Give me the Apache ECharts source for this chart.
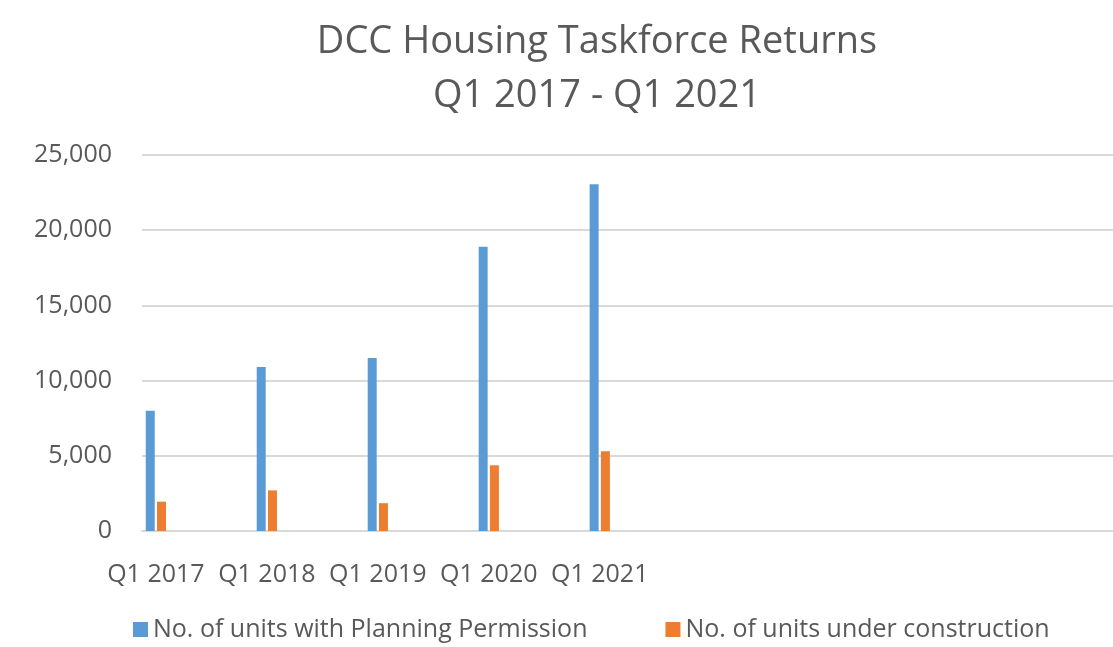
<!DOCTYPE html>
<html>
<head>
<meta charset="utf-8">
<script src="https://cdn.jsdelivr.net/npm/echarts@6/dist/echarts.min.js"></script>
<style>
  html, body { margin: 0; padding: 0; background: #fff; }
  #chart { width: 1113px; height: 647px; }
</style>
</head>
<body>
<div id="chart"></div>
<script>
// quarterly axis, labels only on Q1 of each year, empty quarters after Q1 2021
var quarterLabels = ['Q1 2017', '', '', '', 'Q1 2018', '', '', '', 'Q1 2019', '', '', '', 'Q1 2020', '', '', '', 'Q1 2021'];
var totalSlots = 35;
var permission = [8000, null, null, null, 10900, null, null, null, 11500, null, null, null, 18900, null, null, null, 23050];
var construction = [1950, null, null, null, 2700, null, null, null, 1850, null, null, null, 4370, null, null, null, 5300];
var yTicks = [0, 5000, 10000, 15000, 20000, 25000];

var categories = quarterLabels.slice();
while (categories.length < totalSlots) categories.push('');

var font = '"Open Sans", sans-serif';
var textColor = '#595959';

var chart = echarts.init(document.getElementById('chart'));
chart.setOption({
  animation: false,
  title: {
    text: 'DCC Housing Taskforce Returns\nQ1 2017 - Q1 2021',
    left: 592,
    textAlign: 'center',
    top: 10,
    textStyle: {
      fontFamily: font,
      fontSize: 38,
      fontWeight: 'normal',
      color: textColor,
      lineHeight: 54
    }
  },
  legend: {
    bottom: 0,
    left: 128,
    itemWidth: 15,
    itemHeight: 15,
    itemGap: 78,
    icon: 'rect',
    textStyle: { fontFamily: font, fontSize: 25, color: textColor },
    data: ['No. of units with Planning Permission', 'No. of units under construction']
  },
  grid: { left: 142, right: 0, top: 155, bottom: 116 },
  xAxis: {
    type: 'category',
    data: categories,
    axisTick: { show: false },
    axisLine: { lineStyle: { color: '#D9D9D9', width: 2 } },
    axisLabel: {
      interval: 0,
      hideOverlap: false,
      margin: 31,
      fontFamily: font,
      fontSize: 25,
      color: textColor
    }
  },
  yAxis: {
    type: 'value',
    min: yTicks[0],
    max: yTicks[yTicks.length - 1],
    interval: 5000,
    axisLine: { show: false },
    axisTick: { show: false },
    splitLine: { lineStyle: { color: '#D9D9D9', width: 2 } },
    axisLabel: {
      margin: 30,
      fontFamily: font,
      fontSize: 25,
      color: textColor,
      formatter: function (v) { return v.toLocaleString('en-US'); }
    }
  },
  series: [
    {
      name: 'No. of units with Planning Permission',
      type: 'bar',
      data: permission,
      barWidth: 9,
      barGap: '25%',
      itemStyle: { color: '#5B9BD5' }
    },
    {
      name: 'No. of units under construction',
      type: 'bar',
      data: construction,
      barWidth: 9,
      itemStyle: { color: '#ED7D31' }
    }
  ]
});
</script>
</body>
</html>
